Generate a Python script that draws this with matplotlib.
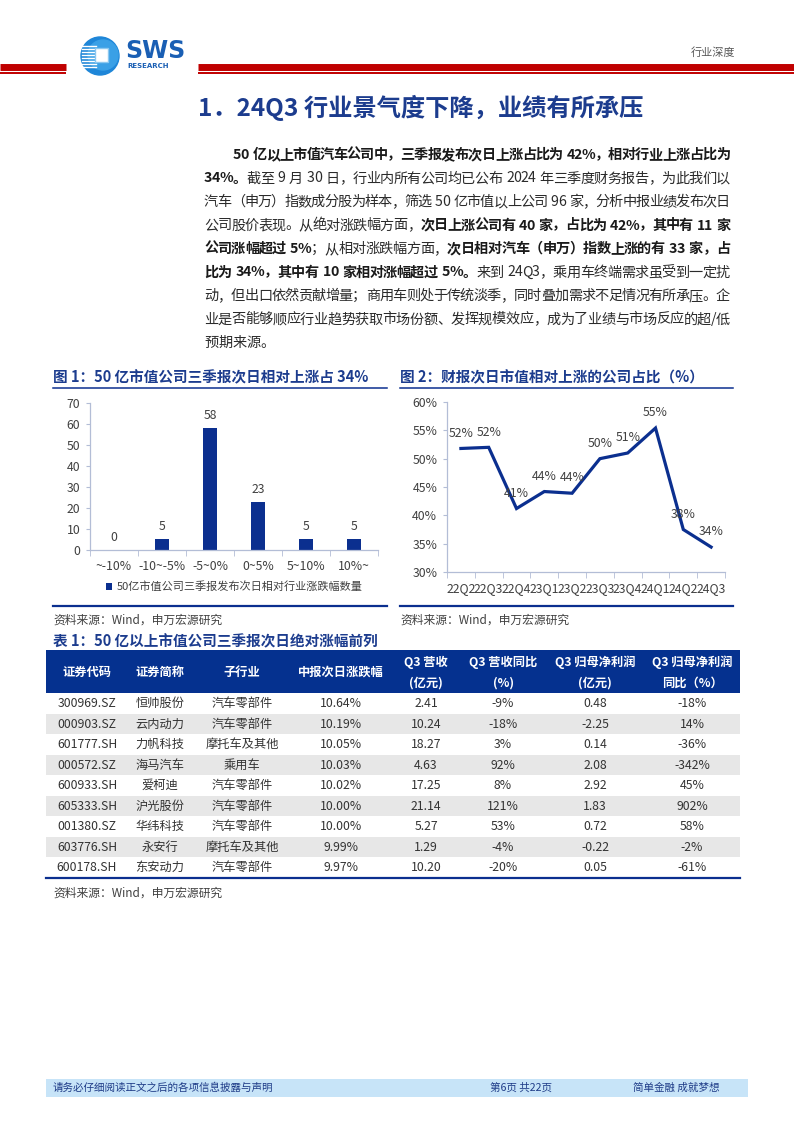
import numpy as np
import matplotlib
matplotlib.use("Agg")
import matplotlib.pyplot as plt
from matplotlib.patches import Rectangle, Circle
from matplotlib.font_manager import FontProperties
from matplotlib.ticker import FuncFormatter

FAMILY = ['Noto Sans CJK SC', 'DejaVu Sans']
plt.rcParams['font.family'] = FAMILY

NAVY = '#0b2f8f'
TITLE_BLUE = '#1c3c8e'
GRAY_TXT = '#404040'
AXIS_COL = '#b3bdd6'

# ---- data ----
ranges = ['~-10%', '-10~-5%', '-5~0%', '0~5%', '5~10%', '10%~']
counts = [0, 5, 58, 23, 5, 5]
legend_label = '50亿市值公司三季报发布次日相对行业涨跌幅数量'

quarters = ['22Q2', '22Q3', '22Q4', '23Q1', '23Q2', '23Q3', '23Q4', '24Q1', '24Q2', '24Q3']
up_share = [51.8, 52.0, 41.2, 44.2, 43.9, 50.0, 51.0, 55.4, 37.5, 34.4]
up_labels = ['52%', '52%', '41%', '44%', '44%', '50%', '51%', '55%', '38%', '34%']

table_header = [['证券代码'], ['证券简称'], ['子行业'], ['中报次日涨跌幅'], ['Q3 营收', '(亿元)'],
                ['Q3 营收同比', '(%)'], ['Q3 归母净利润', '(亿元)'], ['Q3 归母净利润', '同比（%）']]
codes = ['300969.SZ', '000903.SZ', '601777.SH', '000572.SZ', '600933.SH',
         '605333.SH', '001380.SZ', '603776.SH', '600178.SH']
names = ['恒帅股份', '云内动力', '力帆科技', '海马汽车', '爱柯迪', '沪光股份', '华纬科技', '永安行', '东安动力']
sectors = ['汽车零部件', '汽车零部件', '摩托车及其他', '乘用车', '汽车零部件',
           '汽车零部件', '汽车零部件', '摩托车及其他', '汽车零部件']
day_chg = ['10.64%', '10.19%', '10.05%', '10.03%', '10.02%', '10.00%', '10.00%', '9.99%', '9.97%']
q3_rev = ['2.41', '10.24', '18.27', '4.63', '17.25', '21.14', '5.27', '1.29', '10.20']
q3_rev_yoy = ['-9%', '-18%', '3%', '92%', '8%', '121%', '53%', '-4%', '-20%']
q3_np = ['0.48', '-2.25', '0.14', '2.08', '2.92', '1.83', '0.72', '-0.22', '0.05']
q3_np_yoy = ['-18%', '14%', '-36%', '-342%', '45%', '902%', '58%', '-2%', '-61%']

paragraph = [
    [('50 亿以上市值汽车公司中，三季报发布次日上涨占比为 42%，相对行业上涨占比为', True)],
    [('34%。', True), ('截至 9 月 30 日，行业内所有公司均已公布 2024 年三季度财务报告，为此我们以', False)],
    [('汽车（申万）指数成分股为样本，筛选 50 亿市值以上公司 96 家，分析中报业绩发布次日', False)],
    [('公司股价表现。从绝对涨跌幅方面，', False), ('次日上涨公司有 40 家，占比为 42%，其中有 11 家', True)],
    [('公司涨幅超过 5%', True), ('；从相对涨跌幅方面，', False), ('次日相对汽车（申万）指数上涨的有 33 家，占', True)],
    [('比为 34%，其中有 10 家相对涨幅超过 5%。', True), ('来到 24Q3，乘用车终端需求虽受到一定扰', False)],
    [('动，但出口依然贡献增量；商用车则处于传统淡季，同时叠加需求不足情况有所承压。企', False)],
    [('业是否能够顺应行业趋势获取市场份额、发挥规模效应，成为了业绩与市场反应的超/低', False)],
    [('预期来源。', False)],
]

W, H = 794, 1123
fig = plt.figure(figsize=(W / 100, H / 100), dpi=100)
page = fig.add_axes([0, 0, 1, 1])
page.set_xlim(0, W)
page.set_ylim(H, 0)
page.axis('off')


def rect(x0, y0, x1, y1):
    return [x0 / W, 1 - y1 / H, (x1 - x0) / W, (y1 - y0) / H]


# ---- page header ----
page.plot([0, 66], [66.5, 66.5], color='#c00000', lw=5, solid_capstyle='butt')
page.plot([0, 66], [73, 73], color='#c00000', lw=1.4, solid_capstyle='butt')
page.plot([198, W], [66.5, 66.5], color='#c00000', lw=5, solid_capstyle='butt')
page.plot([198, W], [73, 73], color='#c00000', lw=1.4, solid_capstyle='butt')

page.add_patch(Circle((100, 56), 19, color='#1e86d8', zorder=2))
page.add_patch(Circle((103, 55), 15, color='#3aa0e6', zorder=2))
for yy in np.arange(46, 68, 3):
    page.plot([82, 96], [yy, yy], color='white', lw=1.0, zorder=3)
page.add_patch(Rectangle((95, 48), 13, 14, facecolor='white', edgecolor='#8cc8f0', lw=1, zorder=4))
page.text(125, 51, 'SWS', fontsize=17, fontweight='heavy', color='#1a5fb4',
          family='DejaVu Sans', va='center', ha='left')
page.text(127, 65.5, 'RESEARCH', fontsize=5, fontweight='bold', color='#1a5fb4',
          family='DejaVu Sans', va='center', ha='left')
page.text(735, 53, '行业深度', fontsize=8, color='#595959', va='center', ha='right')

page.text(198, 108, '1．24Q3 行业景气度下降，业绩有所承压', fontsize=17.5, fontweight='bold',
          color=TITLE_BLUE, va='center', ha='left')

# ---- justified paragraph ----
renderer = fig.canvas.get_renderer()
PSIZE = 10.2


def char_width(ch, bold):
    fp = FontProperties(family=FAMILY, weight='bold' if bold else 'normal', size=PSIZE)
    if ch == ' ':
        # wider word gap, like the source layout
        return 0.33 * PSIZE * 100 / 72
    w, _, _ = renderer.get_text_width_height_descent(ch, fp, ismath=False)
    return w


right_edge = 730
for i, segs in enumerate(paragraph):
    y = 155 + 23.5 * i
    x0 = 233 if i == 0 else 204
    chars = [(ch, b) for s, b in segs for ch in s]
    widths = [char_width(ch, b) for ch, b in chars]
    natural = sum(widths)
    last = i == len(paragraph) - 1
    extra = 0 if last else (right_edge - x0 - natural) / (len(chars) - 1)
    x = x0
    for (ch, b), w in zip(chars, widths):
        page.text(x, y, ch, fontsize=PSIZE, fontweight='bold' if b else 'normal',
                  color='#1a1a1a' if b else '#2b2b2b', va='center', ha='left')
        x += w + extra

# ---- figure titles / rules ----
page.text(53, 377, '图 1：50 亿市值公司三季报次日相对上涨占 34%', fontsize=10.5, fontweight='bold',
          color=TITLE_BLUE, va='center', ha='left')
page.plot([53, 387], [387.5, 387.5], color=NAVY, lw=1.1)
page.text(400, 377, '图 2：财报次日市值相对上涨的公司占比（%）', fontsize=10.5, fontweight='bold',
          color=TITLE_BLUE, va='center', ha='left')
page.plot([400, 733], [387.5, 387.5], color=NAVY, lw=1.1)

page.plot([53, 387], [606, 606], color=NAVY, lw=1.6)
page.plot([400, 733], [606, 606], color=NAVY, lw=1.6)
page.text(53, 620, '资料来源：Wind，申万宏源研究', fontsize=8.5, color=GRAY_TXT, va='center', ha='left')
page.text(400, 620, '资料来源：Wind，申万宏源研究', fontsize=8.5, color=GRAY_TXT, va='center', ha='left')

# ---- chart 1: bars ----
ax1 = fig.add_axes(rect(90, 402.7, 378, 550))
ax1.set_facecolor('none')
xb = np.arange(len(ranges))
ax1.bar(xb, counts, width=0.3, color=NAVY, label=legend_label)
for xi, v in zip(xb, counts):
    ax1.annotate(str(v), (xi, v), xytext=(0, 9), textcoords='offset points',
                 ha='center', va='center', fontsize=8.8, color=GRAY_TXT)
ax1.set_xlim(-0.5, len(ranges) - 0.5)
ax1.set_ylim(0, 70)
ax1.set_yticks(np.arange(0, 71, 10))
ax1.set_xticks(xb)
ax1.set_xticklabels(ranges)
ax1.set_xticks(np.arange(-0.5, len(ranges)), minor=True)
ax1.tick_params(axis='x', which='major', length=0, pad=7, labelsize=8.8, labelcolor=GRAY_TXT)
ax1.tick_params(axis='x', which='minor', length=4, color=AXIS_COL, direction='out')
ax1.tick_params(axis='y', length=3, color=AXIS_COL, pad=4, labelsize=8.8, labelcolor=GRAY_TXT)
for sp in ['top', 'right']:
    ax1.spines[sp].set_visible(False)
for sp in ['left', 'bottom']:
    ax1.spines[sp].set_color(AXIS_COL)
    ax1.spines[sp].set_linewidth(0.9)
ax1.legend(loc='center', bbox_to_anchor=(234 / W, 1 - 587 / H), bbox_transform=fig.transFigure,
           frameon=False, fontsize=8, handlelength=0.6, handleheight=0.6, handletextpad=0.4,
           labelcolor=GRAY_TXT, borderpad=0)

# ---- chart 2: line ----
ax2 = fig.add_axes(rect(447, 402, 725, 572))
ax2.set_facecolor('none')
xl = np.arange(len(quarters))
ax2.plot(xl, up_share, color=NAVY, lw=2.3, solid_joinstyle='miter')
for xi, v, lab in zip(xl, up_share, up_labels):
    ax2.annotate(lab, (xi, v), xytext=(0, 11), textcoords='offset points',
                 ha='center', va='center', fontsize=8.8, color=GRAY_TXT)
ax2.set_xlim(-0.5, len(quarters) - 0.5)
ax2.set_ylim(30, 60)
ax2.set_yticks(np.arange(30, 61, 5))
ax2.yaxis.set_major_formatter(FuncFormatter(lambda v, p: f'{v:.0f}%'))
ax2.set_xticks(xl)
ax2.set_xticklabels(quarters)
ax2.set_xticks(np.arange(-0.5, len(quarters)), minor=True)
ax2.tick_params(axis='x', which='major', length=0, pad=7, labelsize=8.8, labelcolor=GRAY_TXT)
ax2.tick_params(axis='x', which='minor', length=4, color=AXIS_COL, direction='out')
ax2.tick_params(axis='y', length=3, color=AXIS_COL, pad=4, labelsize=8.8, labelcolor=GRAY_TXT)
for sp in ['top', 'right']:
    ax2.spines[sp].set_visible(False)
for sp in ['left', 'bottom']:
    ax2.spines[sp].set_color(AXIS_COL)
    ax2.spines[sp].set_linewidth(0.9)

# ---- table ----
page.text(53, 641, '表 1：50 亿以上市值公司三季报次日绝对涨幅前列', fontsize=10.5, fontweight='bold',
          color=TITLE_BLUE, va='center', ha='left')
tx0, tx1 = 46, 740
head_top, head_bot = 650, 693
row_h = 20.5
col_x = [87, 160, 242, 341, 426, 503, 595, 692]
page.add_patch(Rectangle((tx0, head_top), tx1 - tx0, head_bot - head_top, color='#05318f', lw=0))
for cx, lines in zip(col_x, table_header):
    if len(lines) == 1:
        page.text(cx, 672, lines[0], fontsize=8.8, fontweight='bold', color='white', ha='center', va='center')
    else:
        page.text(cx, 662, lines[0], fontsize=8.8, fontweight='bold', color='white', ha='center', va='center')
        page.text(cx, 683, lines[1], fontsize=8.8, fontweight='bold', color='white', ha='center', va='center')

columns = [codes, names, sectors, day_chg, q3_rev, q3_rev_yoy, q3_np, q3_np_yoy]
for r in range(len(codes)):
    top = head_bot + r * row_h
    if r % 2 == 1:
        page.add_patch(Rectangle((tx0, top), tx1 - tx0, row_h, color='#e7e7e7', lw=0))
    for cx, col in zip(col_x, columns):
        page.text(cx, top + row_h / 2 + 0.5, col[r], fontsize=8.8, color='#333333', ha='center', va='center')
tbot = head_bot + len(codes) * row_h
page.plot([tx0, tx1], [tbot + 0.5, tbot + 0.5], color=NAVY, lw=1.6)
page.text(53, 893, '资料来源：Wind，申万宏源研究', fontsize=8.5, color=GRAY_TXT, va='center', ha='left')

# ---- footer ----
page.add_patch(Rectangle((46, 1079), 702, 18, color='#c7e4f8', lw=0))
page.text(53, 1088, '请务必仔细阅读正文之后的各项信息披露与声明', fontsize=7.6, color='#1f3c88', va='center', ha='left')
page.text(490, 1088, '第6页 共22页', fontsize=7.6, color='#1f3c88', va='center', ha='left')
page.text(719, 1088, '简单金融 成就梦想', fontsize=7.6, color='#1f3c88', va='center', ha='right')

fig.savefig('out.png', dpi=100)
